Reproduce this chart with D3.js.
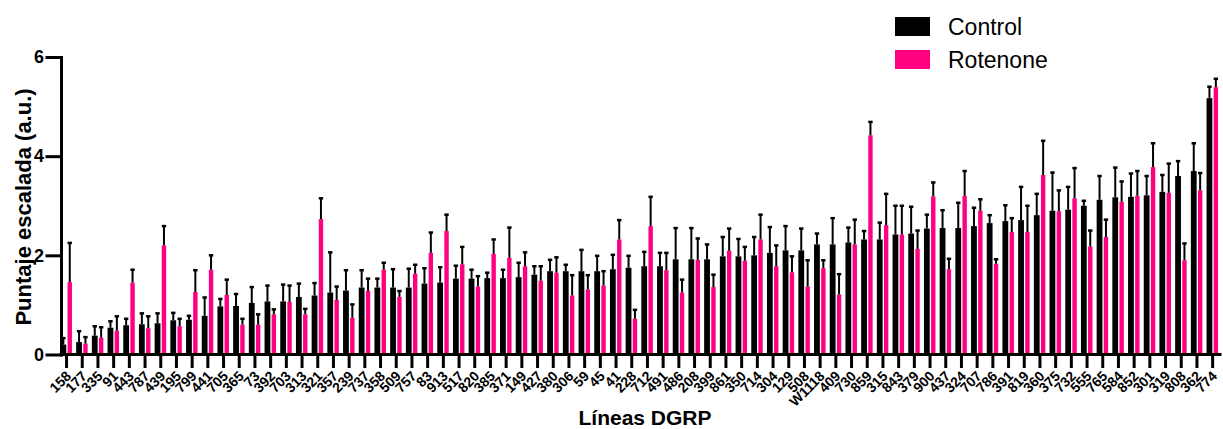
<!DOCTYPE html>
<html>
<head>
  <meta charset="UTF-8" />
  <title>Puntaje escalada por línea DGRP</title>
  <script src="https://d3js.org/d3.v7.min.js"></script>
  <style>
    body { margin: 0; background: #fff; }
    text { font-family: "Liberation Sans", Arial, sans-serif; fill: #000; }
    .axis path, .axis line { stroke: #000; stroke-width: 3px; stroke-linecap: square; }
    .axis text { font-weight: bold; }
    .err { stroke: #000; stroke-width: 2px; fill: none; }
  </style>
</head>
<body>
  <svg id="chart" width="1223" height="429"></svg>
  <script>
    // DGRP lines, sorted by control score
    const lines = ["158","177","335","91","443","787","439","195","799","441","705","365","73","392","703","313",
      "321","357","239","737","358","509","757","83","913","517","820","385","371","149","427","380","306","59",
      "45","41","228","712","491","486","208","399","861","350","714","304","129","508","W1118","409","730","859",
      "315","843","379","900","437","324","707","786","391","819","360","375","732","555","765","584","852","301",
      "319","808","362","774"];

    const controlMean = [0.2,0.25,0.38,0.54,0.59,0.61,0.63,0.69,0.70,0.78,0.97,0.98,1.04,1.07,1.07,1.16,1.19,1.25,
      1.29,1.35,1.35,1.35,1.35,1.43,1.45,1.53,1.53,1.54,1.54,1.56,1.61,1.68,1.68,1.68,1.68,1.72,1.75,1.78,1.78,
      1.92,1.92,1.92,1.98,1.98,2.0,2.05,2.10,2.10,2.22,2.22,2.26,2.32,2.32,2.42,2.44,2.54,2.55,2.55,2.59,2.65,
      2.69,2.71,2.81,2.90,2.92,3.0,3.12,3.17,3.18,3.21,3.28,3.6,3.70,5.17];
    const controlSem = [0.13,0.22,0.19,0.13,0.13,0.22,0.20,0.15,0.08,0.37,0.15,0.24,0.32,0.32,0.34,0.27,0.25,0.81,
      0.41,0.35,0.18,0.37,0.38,0.31,0.31,0.26,0.18,0.11,0.17,0.29,0.17,0.23,0.13,0.43,0.31,0.29,0.24,0.29,0.27,
      0.63,0.63,0.30,0.39,0.35,0.37,0.52,0.49,0.44,0.22,0.53,0.30,0.17,0.34,0.58,0.54,0.28,0.36,0.51,0.37,0.16,
      0.32,0.67,0.43,0.77,0.46,0.10,0.48,0.60,0.47,0.39,0.34,0.30,0.56,0.23];

    const rotenoneMean = [1.46,0.22,0.34,0.48,1.45,0.53,2.2,0.57,1.26,1.71,1.2,0.6,0.6,0.81,1.06,0.81,2.73,1.1,
      0.74,1.28,1.71,1.16,1.63,2.05,2.49,1.82,1.37,2.03,1.95,1.78,1.49,1.65,1.19,1.31,1.39,2.32,0.72,2.59,1.70,
      1.25,1.91,1.36,2.09,1.89,2.32,1.78,1.66,1.37,1.74,1.21,2.22,4.42,2.61,2.42,2.13,3.19,1.72,3.20,2.90,1.83,
      2.47,2.47,3.62,2.89,3.15,2.18,2.37,3.08,3.2,3.78,3.26,1.9,3.31,5.39];
    const rotenoneSem = [0.79,0.13,0.21,0.29,0.26,0.24,0.39,0.15,0.44,0.29,0.31,0.12,0.21,0.10,0.33,0.11,0.42,0.27,
      0.27,0.25,0.14,0.12,0.18,0.41,0.33,0.35,0.21,0.29,0.61,0.28,0.29,0.31,0.41,0.29,0.29,0.39,0.18,0.59,0.35,
      0.26,0.43,0.25,0.45,0.28,0.50,0.42,0.32,0.53,0.16,0.41,0.50,0.27,0.63,0.58,0.37,0.28,0.21,0.50,0.23,0.09,
      0.28,0.53,0.69,0.42,0.61,0.32,0.35,0.41,0.50,0.48,0.59,0.34,0.35,0.17];

    const yTicks = [0, 2, 4, 6];
    const seriesNames = ["Control", "Rotenone"];
    const colors = ["#000000", "#ff0080"];

    const svg = d3.select("#chart");

    const x = d3.scaleBand().domain(lines).range([58.7, 1220.5]).padding(0);
    const y = d3.scaleLinear().domain([0, 6]).range([354.5, 57]);

    // one row per bar
    const bars = [];
    lines.forEach((l, i) => {
      bars.push({ line: l, s: 0, mean: controlMean[i], sem: controlSem[i] });
      bars.push({ line: l, s: 1, mean: rotenoneMean[i], sem: rotenoneSem[i] });
    });
    const barW = [5.8, 4.4];
    const offset = [-3.2, 3.2];
    const cx = d => x(d.line) + x.bandwidth() / 2 + offset[d.s];

    svg.append("g").selectAll("rect")
      .data(bars)
      .join("rect")
      .attr("x", d => cx(d) - barW[d.s] / 2)
      .attr("y", d => y(d.mean))
      .attr("width", d => barW[d.s])
      .attr("height", d => y(0) - y(d.mean))
      .attr("fill", d => colors[d.s]);

    // error bars (upper only)
    const eb = svg.append("g").selectAll("g")
      .data(bars)
      .join("g");
    eb.append("line").attr("class", "err")
      .attr("x1", cx).attr("x2", cx)
      .attr("y1", d => y(d.mean)).attr("y2", d => y(d.mean + d.sem));
    eb.append("line").attr("class", "err")
      .attr("x1", d => cx(d) - 2.2).attr("x2", d => cx(d) + 2.2)
      .attr("y1", d => y(d.mean + d.sem)).attr("y2", d => y(d.mean + d.sem))
      .style("stroke-width", "2.5px");

    // axes
    const yAxis = svg.append("g").attr("class", "axis")
      .attr("transform", "translate(61,0)")
      .call(d3.axisLeft(y).tickValues(yTicks).tickFormat(d3.format("d"))
        .tickSize(14).tickSizeOuter(0).tickPadding(3));
    yAxis.selectAll("text").style("font-size", "18px");

    const xAxis = svg.append("g").attr("class", "axis")
      .attr("transform", `translate(0,${y(0)})`)
      .call(d3.axisBottom(x).tickSize(12).tickSizeOuter(0));
    xAxis.select(".domain").attr("d", `M61,0H1220`);
    xAxis.selectAll("text")
      .style("font-size", "14px")
      .attr("text-anchor", "end")
      .attr("dy", "0.35em")
      .attr("transform", "translate(2,19) rotate(-45)")
      .attr("y", 0).attr("x", 0);

    // axis titles
    svg.append("text")
      .attr("transform", "translate(31,207) rotate(-90)")
      .attr("text-anchor", "middle")
      .style("font-size", "22px").style("font-weight", "bold")
      .text("Puntaje escalada (a.u.)");
    svg.append("text")
      .attr("x", 645).attr("y", 425)
      .attr("text-anchor", "middle")
      .style("font-size", "21px").style("font-weight", "bold")
      .text("Líneas DGRP");

    // legend
    const legend = svg.append("g").selectAll("g")
      .data(seriesNames)
      .join("g")
      .attr("transform", (d, i) => `translate(895,${17 + i * 33})`);
    legend.append("rect").attr("width", 35).attr("height", 19).attr("fill", (d, i) => colors[i]);
    legend.append("text").attr("x", 53).attr("y", 18)
      .style("font-size", "23px")
      .text(d => d);
  </script>
</body>
</html>
